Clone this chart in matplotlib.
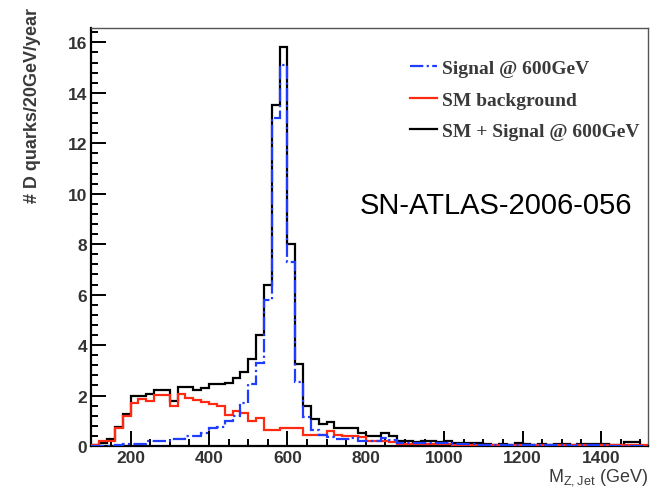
import numpy as np
import matplotlib.pyplot as plt
from matplotlib.ticker import MultipleLocator

# 20 GeV bins from 100 to 1520 GeV
edges = np.arange(100, 1521, 20)

sm_bkg = [0.02, 0.2, 0.2, 0.7, 1.2, 1.72, 1.88, 1.8, 2.02, 2.02,
          1.6, 2.05, 1.92, 1.82, 1.75, 1.68, 1.6, 1.22, 1.4, 1.32,
          1.0, 1.12, 0.62, 0.62, 0.72, 0.72, 0.72, 0.42, 0.42, 0.42,
          0.6, 0.42, 0.4, 0.38, 0.35, 0.2, 0.18, 0.18, 0.16, 0.08,
          0.08, 0.07, 0.07, 0.06, 0.06, 0.06, 0.05, 0.05, 0.05, 0.05,
          0.05, 0.05, 0.04, 0.02, 0.04, 0.04, 0.04, 0.04, 0.04, 0.04,
          0.04, 0.02, 0.02, 0.02, 0.04, 0.04, 0.02, 0.02, 0.02, 0.02,
          0.02]

signal = [0.0, 0.0, 0.0, 0.05, 0.07, 0.07, 0.07, 0.2, 0.2, 0.2,
          0.26, 0.26, 0.4, 0.4, 0.53, 0.73, 0.75, 1.0, 1.2, 1.72,
          2.45, 3.3, 5.8, 13.0, 15.1, 7.3, 2.55, 1.15, 0.62, 0.42,
          0.35, 0.28, 0.26, 0.33, 0.18, 0.2, 0.2, 0.3, 0.22, 0.12,
          0.12, 0.1, 0.1, 0.12, 0.1, 0.12, 0.08, 0.07, 0.06, 0.05,
          0.04, 0.02, 0.02, 0.03, 0.05, 0.02, 0.02, 0.03, 0.02, 0.02,
          0.02, 0.01, 0.03, 0.04, 0.02, 0.03, 0.01, 0.01, 0.0, 0.0,
          0.0]

sm_plus_sig = [0.02, 0.13, 0.28, 0.75, 1.25, 1.98, 1.98, 2.05, 2.2, 2.2,
               1.8, 2.32, 2.32, 2.22, 2.3, 2.44, 2.44, 2.5, 2.7, 2.95,
               3.45, 4.4, 6.4, 13.5, 15.8, 8.0, 3.25, 1.6, 1.06, 0.86,
               0.95, 0.7, 0.7, 0.73, 0.53, 0.4, 0.4, 0.53, 0.4, 0.2,
               0.2, 0.17, 0.2, 0.2, 0.17, 0.2, 0.13, 0.13, 0.13, 0.1,
               0.07, 0.05, 0.06, 0.05, 0.1, 0.06, 0.05, 0.07, 0.05, 0.06,
               0.06, 0.03, 0.06, 0.07, 0.06, 0.07, 0.04, 0.03, 0.15, 0.15,
               0.0]

fig = plt.figure(figsize=(6.54, 4.89), dpi=100)
ax = fig.add_axes([0.1398, 0.0859, 0.8510, 0.8548])

ax.stairs(sm_plus_sig, edges, color='black', lw=1.6, zorder=2,
          label='SM + Signal @ 600GeV')
ax.stairs(sm_bkg, edges, color='#ff2a12', lw=1.6, zorder=3,
          label='SM background')
ax.stairs(signal, edges, color='#1f3dff', lw=1.6, zorder=4,
          linestyle=(0, (6, 1.5, 1, 1.5)), label='Signal @ 600GeV')

ax.set_xlim(100, 1520)
ax.set_ylim(0, 16.57)

ax.xaxis.set_major_locator(MultipleLocator(200))
ax.xaxis.set_minor_locator(MultipleLocator(50))
ax.yaxis.set_major_locator(MultipleLocator(2))
ax.yaxis.set_minor_locator(MultipleLocator(0.4))
ax.tick_params(which='major', direction='in', length=11, width=1.4,
               top=False, right=False, pad=3)
ax.tick_params(which='minor', direction='in', length=5, width=1.4,
               top=False, right=False)
for lab in ax.get_xticklabels() + ax.get_yticklabels():
    lab.set_family('Liberation Sans')
    lab.set_fontweight('bold')
    lab.set_fontsize(12.5)
    lab.set_color('#333333')

for s in ['left', 'bottom']:
    ax.spines[s].set_linewidth(1.6)
for s in ['top', 'right']:
    ax.spines[s].set_linewidth(1.0)
    ax.spines[s].set_color('#555555')

h, l = ax.get_legend_handles_labels()
order = [2, 1, 0]
leg = ax.legend([h[i] for i in order], [l[i] for i in order],
                loc='upper left', bbox_to_anchor=(0.572, 0.925),
                frameon=False, borderpad=0, borderaxespad=0,
                handlelength=1.4, handletextpad=0.25, labelspacing=0.72,
                prop={'family': 'Liberation Serif', 'weight': 'bold', 'size': 14})
for t in leg.get_texts():
    t.set_color('#3a3a3a')

fig.text(632 / 654, 1 - 214 / 489, 'SN-ATLAS-2006-056', ha='right',
         va='baseline', fontsize=21, family='Liberation Sans')

fig.text(33 / 654, 1 - 8 / 489, '# D quarks/20GeV/year', rotation=90,
         ha='center', va='top', fontsize=13, fontweight='bold',
         family='Liberation Sans', color='#3a3a3a')

fig.text(648 / 654, 1 - 478 / 489, r'M$_{\mathregular{Z,Jet}}$ (GeV)',
         ha='right', va='center', fontsize=13, family='Liberation Sans',
         color='#3a3a3a')

fig.savefig('out.png', dpi=100)
